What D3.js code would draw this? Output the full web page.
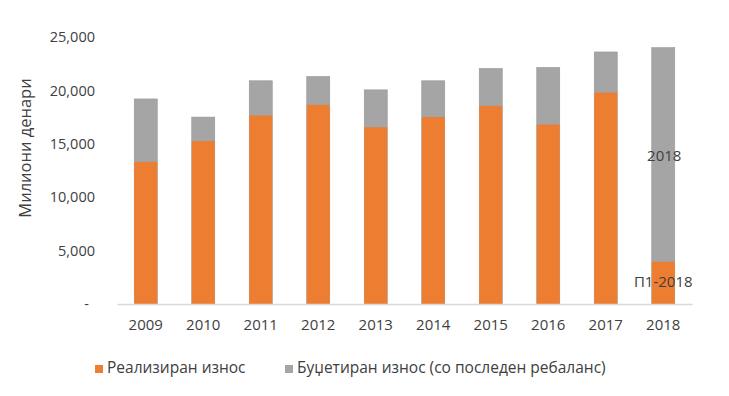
<!DOCTYPE html>
<html>
<head>
<meta charset="utf-8">
<script src="https://cdn.jsdelivr.net/npm/d3@7"></script>
<style>
    body { margin: 0; background: #fff; }
    text { font-family: "Open Sans", sans-serif; }
</style>
</head>
<body>
<div id="root"></div>
<script>
// chart values (million denars)
var years = ["2009", "2010", "2011", "2012", "2013", "2014", "2015", "2016", "2017", "2018"];
var budgeted = [19200, 17500, 20900, 21300, 20050, 20900, 22050, 22150, 23600, 24000];
var realized = [13300, 15250, 17650, 18650, 16550, 17500, 18550, 16800, 19800, 3950];
var yTicks = [0, 5000, 10000, 15000, 20000, 25000];
var seriesNames = ["Реализиран износ", "Буџетиран износ (со последен ребаланс)"];
var colors = ["#ED7D31", "#A5A5A5"];

var width = 729, height = 396;
var margin = { top: 37, right: 37, bottom: 92, left: 117 };
var innerW = width - margin.left - margin.right,
    innerH = height - margin.top - margin.bottom;

var svg = d3.select("#root")
    .append("svg")
    .attr("width", width)
    .attr("height", height);

var g = svg.append("g")
    .attr("transform", "translate(" + margin.left + "," + margin.top + ")");

var x = d3.scaleBand().domain(years).range([0, innerW]).paddingInner(0.6).paddingOuter(0.3);
var y = d3.scaleLinear().domain([0, 25000]).range([innerH, 0]);

// y axis (labels only)
var yAxis = d3.axisLeft(y)
    .tickValues(yTicks)
    .tickSize(0)
    .tickPadding(22)
    .tickFormat(function (d) { return d === 0 ? "-" : d3.format(",")(d); });

var yg = g.append("g").call(yAxis);
yg.select(".domain").remove();
yg.selectAll("text")
    .style("font-size", "14.5px")
    .style("fill", "#404040")
    .attr("dx", function (d) { return d === 0 ? -6 : 0; });

// budgeted bars (behind)
g.append("g")
    .selectAll("rect")
    .data(years)
    .enter()
    .append("rect")
    .attr("x", function (d) { return x(d); })
    .attr("width", x.bandwidth())
    .attr("y", function (d, i) { return y(budgeted[i]); })
    .attr("height", function (d, i) { return innerH - y(budgeted[i]); })
    .style("fill", colors[1])
    .style("stroke", "#969696")
    .style("stroke-width", 0.6);

// realized bars (front)
g.append("g")
    .selectAll("rect")
    .data(years)
    .enter()
    .append("rect")
    .attr("x", function (d) { return x(d); })
    .attr("width", x.bandwidth())
    .attr("y", function (d, i) { return y(realized[i]); })
    .attr("height", function (d, i) { return innerH - y(realized[i]); })
    .style("fill", colors[0]);

// x axis
var xg = g.append("g")
    .attr("transform", "translate(0," + innerH + ")")
    .call(d3.axisBottom(x).tickSize(0).tickPadding(15));
xg.select(".domain").style("stroke", "#d9d9d9").style("stroke-width", 1.5);
xg.selectAll("text").style("font-size", "15px").style("fill", "#404040");

// labels inside the 2018 bar
var last = years[years.length - 1];
g.append("text")
    .attr("x", x(last) + x.bandwidth() / 2 + 1)
    .attr("y", y(13750))
    .attr("text-anchor", "middle")
    .attr("dominant-baseline", "middle")
    .style("font-size", "15px")
    .style("fill", "#404040")
    .text("2018");
g.append("text")
    .attr("x", x(last) + x.bandwidth() / 2)
    .attr("y", y(1950))
    .attr("text-anchor", "middle")
    .attr("dominant-baseline", "middle")
    .style("font-size", "15px")
    .style("fill", "#404040")
    .text("П1-2018");

// y axis title
svg.append("text")
    .attr("transform", "translate(27," + 148 + ") rotate(-90)")
    .attr("text-anchor", "middle")
    .attr("dominant-baseline", "middle")
    .style("font-size", "16.5px")
    .style("fill", "#404040")
    .text("Милиони денари");

// legend
var legendX = [95, 285];
seriesNames.forEach(function (name, i) {
    svg.append("rect")
        .attr("x", legendX[i])
        .attr("y", 365)
        .attr("width", 8)
        .attr("height", 8)
        .style("fill", colors[i]);
    svg.append("text")
        .attr("x", legendX[i] + 12)
        .attr("y", 369)
        .attr("dominant-baseline", "middle")
        .style("font-size", "15.5px")
        .style("fill", "#404040")
        .text(name);
});
</script>
</body>
</html>
